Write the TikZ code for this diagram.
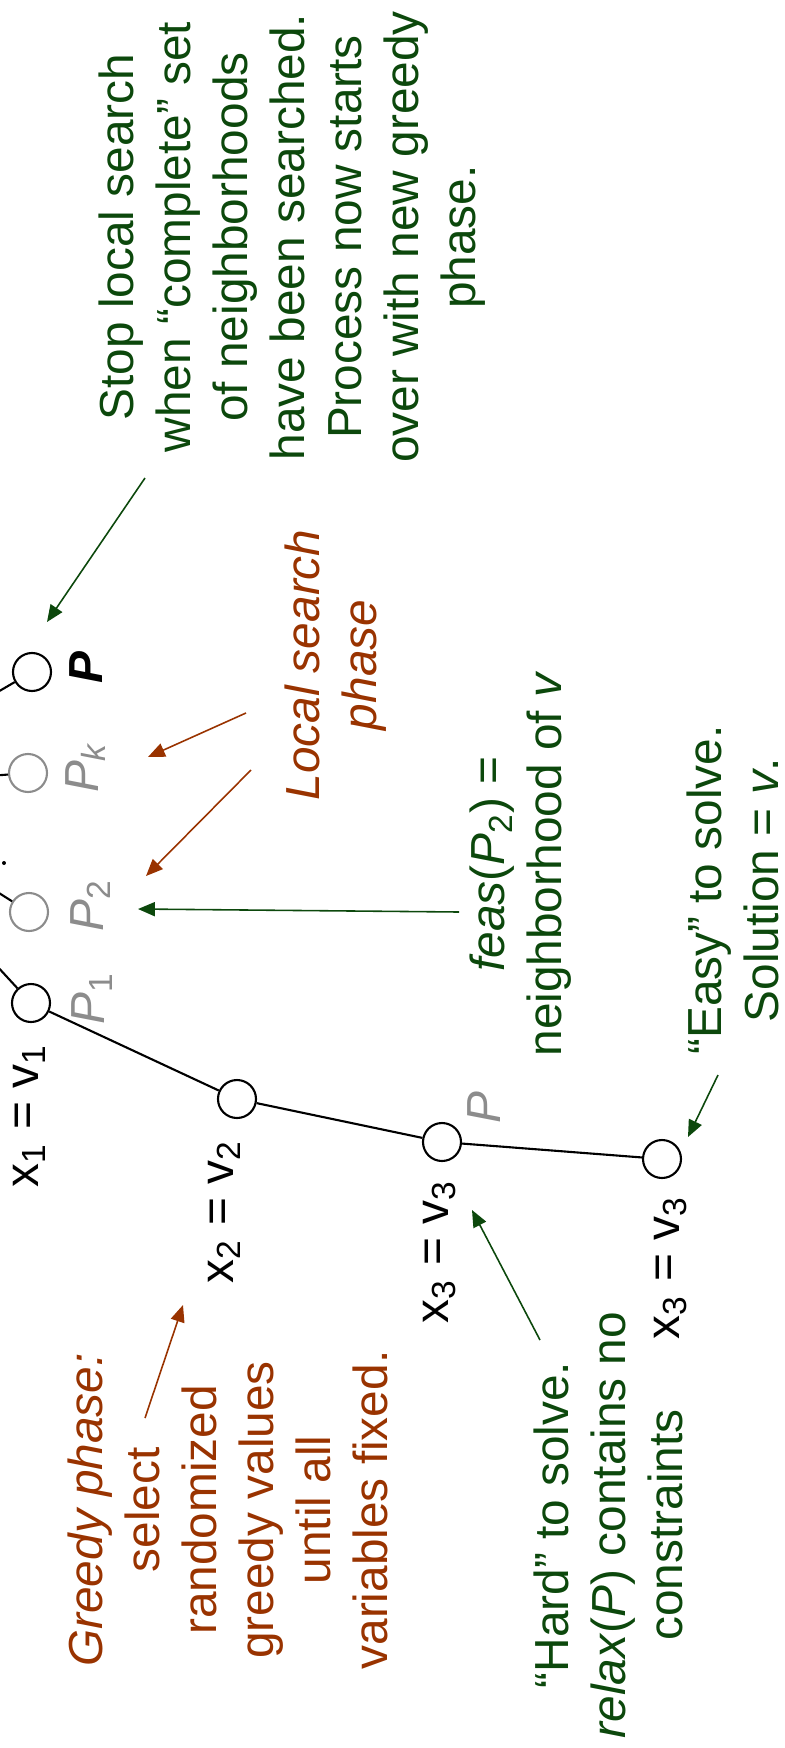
\documentclass[tikz,border=0pt]{standalone}
\usepackage{fontspec}
\setmainfont{Liberation Sans}
\usetikzlibrary{arrows.meta}
\definecolor{leafgreen}{RGB}{12,72,12}
\definecolor{rust}{RGB}{153,51,0}
\definecolor{pale}{RGB}{140,140,140}
\newcommand\notefont{\fontsize{13.6pt}{16.2pt}\selectfont}
\begin{document}
\begin{tikzpicture}[x=0.1mm,y=-0.1mm,font=\notefont,
	vertex/.style={circle,draw,line width=0.6pt,minimum size=3.8mm,inner sep=0pt},
	faded/.style={vertex,draw=pale},
	tag/.style={rotate=90,anchor=base,inner sep=0pt},
	note/.style={rotate=90,align=center,inner sep=0pt},
	pointer/.style={line width=0.45pt,-{Stealth[length=4.8pt,width=4pt,inset=0pt]}}]
	\useasboundingbox (0,0) rectangle (785,1748);
	\clip (0,0) rectangle (785,1748);
	% tree on its side, root off to the left
	\coordinate (root) at (-167,788);
	\node[vertex] (P) at (32,672) {};
	\node[faded] (Pk) at (28,773) {};
	\node[faded] (P2) at (29,912) {};
	\node[vertex] (P1) at (31,1003) {};
	\node[vertex] (v2) at (237,1099) {};
	\node[vertex] (v3) at (442,1142) {};
	\node[vertex] (v3b) at (662,1159) {};
	\draw[line width=0.6pt] (root)--(P) (root)--(Pk) (root)--(P2) (root)--(P1)
		(P1)--(v2)--(v3)--(v3b);
	\fill (4,863) circle (0.2mm);
	% branching values
	\foreach \x/\y/\texn/\name in {38/1116/x\textsubscript{1} = v\textsubscript{1}/fix1,
		233/1212/x\textsubscript{2} = v\textsubscript{2}/fix2,
		448/1252/x\textsubscript{3} = v\textsubscript{3}/fix3,
		679/1268/x\textsubscript{3} = v\textsubscript{3}/fix4}
	\path (\x,\y) node[tag](\name){\texn};
	% subproblem names
	\foreach \x/\y/\sub/\name in {105/998/1/lab1, 103/905/2/lab2, 98/767/\textit{k}/labk}
	\path (\x,\y) node[tag,text=pale](\name){\textit{P}\textsubscript{\sub}};
	\node[tag] (labP) at (102,668) {\textbf{\textit{P}}};
	\node[tag,text=pale] (labv3) at (500,1108) {\textit{P}};
	% comments
	\node[note,text=leafgreen] (stopnote) at (292,237) {Stop local search\\when “complete” set\\of neighborhoods\\have been searched.\\Process now starts\\over with new greedy\\phase.};
	\node[note,text=rust,font=\notefont\itshape] (localnote) at (336,665) {Local search\\phase};
	\node[note,text=leafgreen] (feasnote) at (521,864) {\textit{feas}(\textit{P}\textsubscript{2}) =\\neighborhood of \textit{v}};
	\node[note,text=leafgreen] (easynote) at (733,890) {“Easy” to solve.\\Solution = \textit{v}.};
	\node[note,text=leafgreen] (hardnote) at (608,1525) {“Hard” to solve.\\\textit{relax}(\textit{P}) contains no\\constraints};
	\node[note,text=rust] (greedynote) at (228,1510) {\textit{Greedy phase:}\\select\\randomized\\greedy values\\until all\\variables fixed.};
	% pointers
	\coordinate (stoptail) at (145,478);  \coordinate (stophead) at (47,622);
	\coordinate (loctail1) at (246,713);  \coordinate (lochead1) at (148,757);
	\coordinate (loctail2) at (251,770);  \coordinate (lochead2) at (146,876);
	\coordinate (feastail) at (459,912);  \coordinate (feashead) at (138,909);
	\coordinate (greedtail) at (145,1418); \coordinate (greedhead) at (183,1305);
	\coordinate (hardtail) at (540,1340); \coordinate (hardhead) at (472,1210);
	\coordinate (easytail) at (718,1075); \coordinate (easyhead) at (688,1137);
	\draw[pointer,leafgreen] (stoptail)--(stophead);
	\draw[pointer,rust] (loctail1)--(lochead1);
	\draw[pointer,rust] (loctail2)--(lochead2);
	\draw[pointer,leafgreen] (feastail)--(feashead);
	\draw[pointer,rust] (greedtail)--(greedhead);
	\draw[pointer,leafgreen] (hardtail)--(hardhead);
	\draw[pointer,leafgreen] (easytail)--(easyhead);
\end{tikzpicture}
\end{document}
